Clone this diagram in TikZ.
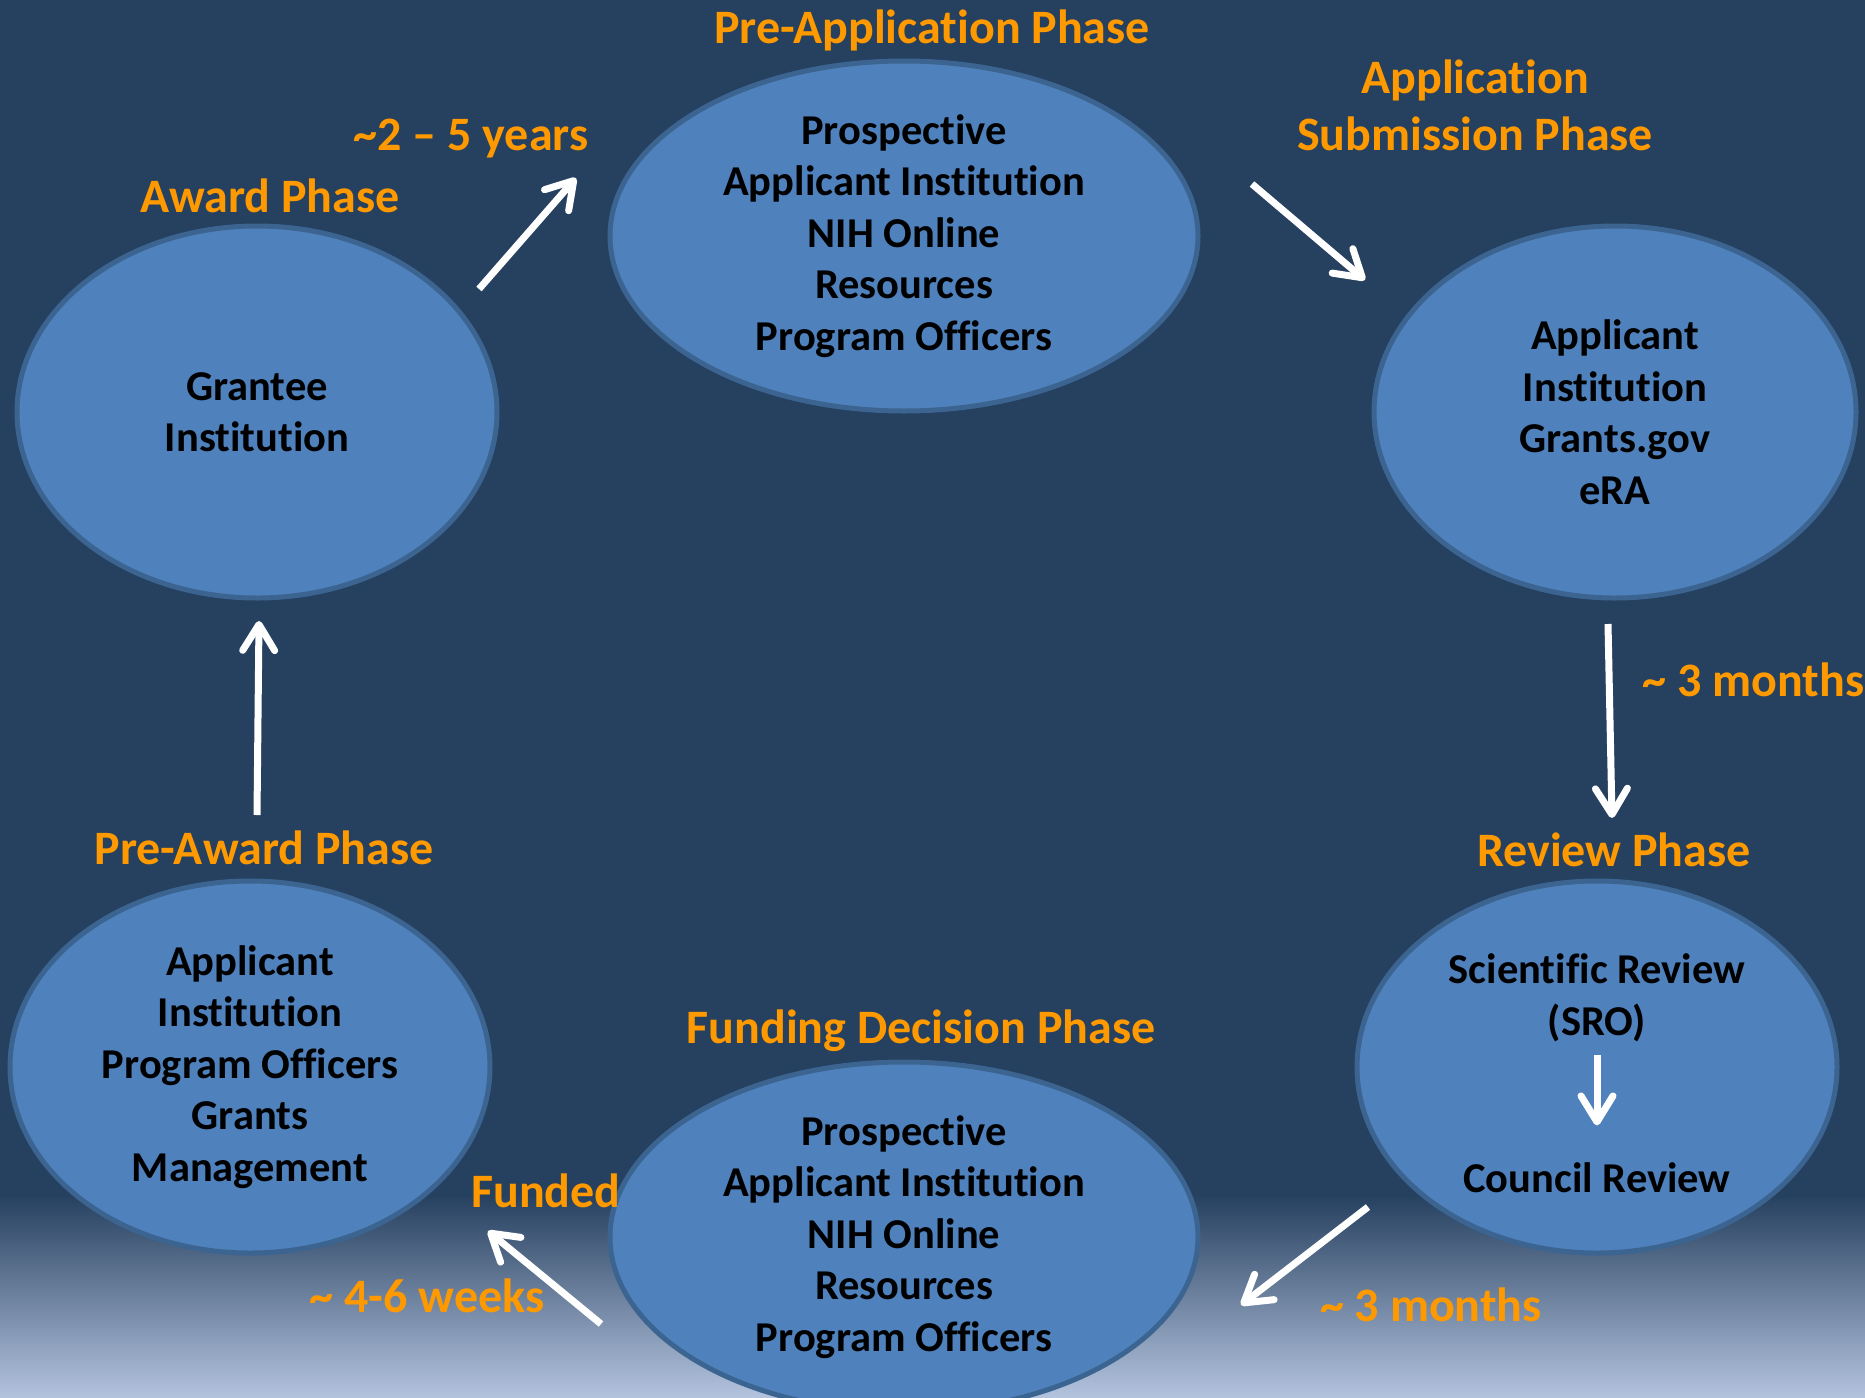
\documentclass[tikz,border=0pt]{standalone}
\usepackage{fontspec}
\setmainfont{Carlito}[Ligatures=NoCommon]
\usetikzlibrary{ % tikz packages
    arrows.meta,shapes.geometric,positioning
}
\definecolor{navy}{HTML}{26405F}
\definecolor{haze}{HTML}{B3C3DE}
\definecolor{phasefill}{HTML}{4F81BD}
\definecolor{phaserim}{HTML}{3C6491}
\definecolor{phaseorange}{HTML}{FF9900}
\tikzset{phase/.style={
    ellipse,
    draw=phaserim,
    line width=5pt,
    fill=phasefill,
    inner sep=0pt,
    align=center,
    font=\fontsize{42.5}{51.5}\selectfont\bfseries
}}
\tikzset{phasename/.style={
    text=phaseorange,
    align=center,
    font=\fontsize{48}{57}\selectfont\bfseries
}}
\tikzset{flow/.style={
    white,
    line width=7pt,
    -{Straight Barb[round,length=26pt,width=32pt]}
}}

\begin{document}
\begin{tikzpicture}[x=1pt,y=-1pt]
        \useasboundingbox (0,0) rectangle (1865,1397);
        \clip (0,0) rectangle (1865,1397);
        \fill[navy] (0,0) rectangle (1865,1397);
        \shade[top color=navy,bottom color=haze] (0,1195) rectangle (1865,1397);

        \node[phase,minimum width=588pt,minimum height=350pt] (preapp) at (904,236)
            {Prospective\\Applicant Institution\\NIH Online\\Resources\\Program Officers};
        \node[phase,minimum width=482pt,minimum height=372pt] (appsub) at (1615,412)
            {Applicant\\Institution\\Grants.gov\\eRA};
        \node[phase,minimum width=480pt,minimum height=372pt] (award) at (257,412)
            {Grantee\\Institution};
        \node[phase,minimum width=480pt,minimum height=372pt] (preaward) at (250,1067)
            {Applicant\\Institution\\Program Officers\\Grants\\Management};
        \node[phase,minimum width=480pt,minimum height=372pt] (review) at (1597,1067) {};
        \node[phase,minimum width=588pt,minimum height=350pt] (funding) at (904,1237)
            {Prospective\\Applicant Institution\\NIH Online\\Resources\\Program Officers};

        \node[font=\fontsize{42.5}{51.5}\selectfont\bfseries,align=center] (sro) at (1597,998)
            {Scientific Review\\(SRO)};
        \node[font=\fontsize{42.5}{51.5}\selectfont\bfseries] (council) at (1597,1178) {Council Review};

        \node[phasename] (preappname) at (932,30) {Pre-Application Phase};
        \node[phasename] (appsubname) at (1475,105) {Application\\Submission Phase};
        \node[phasename] (awardname) at (270,196) {Award Phase};
        \node[phasename] (reviewname) at (1614,850) {Review Phase};
        \node[phasename] (preawardname) at (264,848) {Pre-Award Phase};
        \node[phasename] (fundingname) at (921,1031) {Funding Decision Phase};
        \node[phasename] (funded) at (546,1191) {Funded};

        \node[phasename] (years) at (471,139) {\textasciitilde2 – 5 years};
        \node[phasename,anchor=west] (months1) at (1639,680) {\textasciitilde{} 3 months};
        \node[phasename] (months2) at (1431,1305) {\textasciitilde{} 3 months};
        \node[phasename] (weeks) at (427,1296) {\textasciitilde{} 4-6 weeks};

        \coordinate (awardout) at (479,289);
        \coordinate (preappin) at (576,178);
        \coordinate (preappout) at (1252,184);
        \coordinate (appsubin) at (1365,280);
        \coordinate (appsubout) at (1608,624);
        \coordinate (reviewin) at (1612,818);
        \coordinate (reviewout) at (1368,1207);
        \coordinate (fundingin) at (1241,1305);
        \coordinate (fundingout) at (601,1324);
        \coordinate (preawardin) at (488,1231);
        \coordinate (preawardout) at (257,815);
        \coordinate (awardin) at (259,621);

        \path[flow]
            (awardout)
                edge (preappin)
            (preappout)
                edge (appsubin)
            (appsubout)
                edge (reviewin)
            (reviewout)
                edge (fundingin)
            (fundingout)
                edge (preawardin)
            (preawardout)
                edge (awardin)
            (sro)
                edge[shorten <=10pt,shorten >=34pt] (council);
    \end{tikzpicture}
\end{document}
